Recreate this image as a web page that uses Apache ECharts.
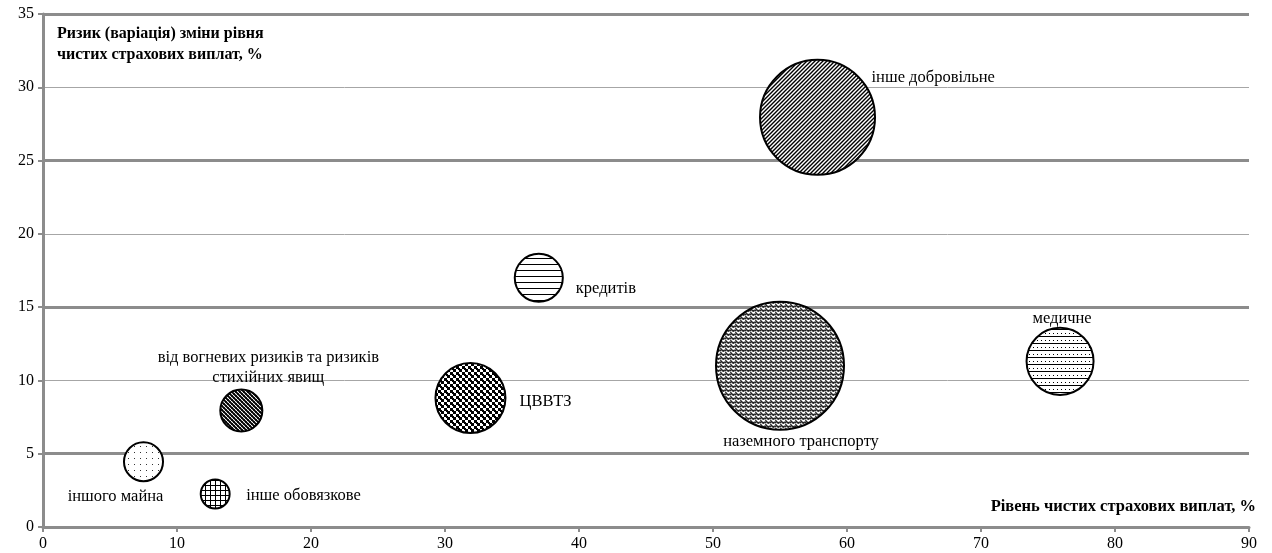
<!DOCTYPE html>
<html>
<head>
<meta charset="utf-8">
<script src="https://cdn.jsdelivr.net/npm/echarts@6/dist/echarts.min.js"></script>
<style>
html,body{margin:0;padding:0;background:#fff;}
#chart{width:1272px;height:553px;}
</style>
</head>
<body>
<div id="chart"></div>
<script>
// ---- data ----
const categories = ['інше добровільне','наземного транспорту','медичне','кредитів','ЦВВТЗ','від вогневих ризиків та ризиків стихійних явищ','інше обовязкове','іншого майна'];
const payoutLevel = [57.8, 55.0, 75.9, 37.0, 31.9, 14.8, 12.85, 7.5];   // x, %
const payoutRisk  = [27.95, 11.0, 11.3, 17.0, 8.8, 7.95, 2.25, 4.45];   // y, %
const bubbleSize  = [80.7, 100, 27.4, 14.1, 29.9, 10.8, 5.1, 9.3];
const xTicks = [0,10,20,30,40,50,60,70,80,90];
const yTicks = [0,5,10,15,20,25,30,35];
const thickGridValues = [5,15,25,35];

// ---- patterns ----
function tile(w,h,draw){
  const c=document.createElement('canvas'); c.width=w; c.height=h;
  const g=c.getContext('2d'); g.fillStyle='#fff'; g.fillRect(0,0,w,h);
  g.fillStyle='#000'; g.strokeStyle='#000'; draw(g,w,h); return c;
}
const patterns = {
  diag: tile(4,4,(g,w,h)=>{g.lineWidth=1.4;g.beginPath();g.moveTo(-1,h+1);g.lineTo(w+1,-1);g.moveTo(-1,1);g.lineTo(1,-1);g.moveTo(w-1,h+1);g.lineTo(w+1,h-1);g.stroke();}),
  wave: tile(5,4,(g,w,h)=>{g.lineWidth=1.1;g.strokeStyle='#222';g.beginPath();g.moveTo(0,3.5);g.lineTo(1.25,1);g.lineTo(2.5,3.5);g.moveTo(2.5,1.5);g.lineTo(3.75,3.5);g.lineTo(5,1.5);g.stroke();g.fillStyle='#444';g.fillRect(0,0,1,1);}),
  hdots: tile(4,7,(g,w,h)=>{g.fillRect(0,0,w,1);g.fillRect(1,4,1,1);}),
  hlines: tile(2,6,(g,w,h)=>{g.fillRect(0,0,w,1);}),
  checker: tile(6,6,(g,w,h)=>{g.fillRect(0,0,3,3);g.fillRect(3,3,3,3);g.fillRect(2,2,2,2);}),
  weave: tile(4,4,(g,w,h)=>{g.lineWidth=1.8;g.beginPath();g.moveTo(-1,-1);g.lineTo(w+1,h+1);g.moveTo(w-1,-1);g.lineTo(w+1,1);g.moveTo(-1,h-1);g.lineTo(1,h+1);g.stroke();g.lineWidth=0.7;g.beginPath();g.moveTo(0,h);g.lineTo(w,0);g.stroke();}),
  grid: tile(5,5,(g,w,h)=>{g.fillRect(0,0,w,1);g.fillRect(0,0,1,h);}),
  dots: tile(6,6,(g,w,h)=>{g.fillStyle='#333';g.fillRect(2,2,1,1);})
};
const patternOf = ['diag','wave','hdots','hlines','checker','weave','grid','dots'];
const labelLayout = [
  {align:'left',  dx:54, dy:-40},
  {align:'center',dx:21, dy:76},
  {align:'center',dx:2,  dy:-43},
  {align:'left',  dx:37, dy:11},
  {align:'left',  dx:49, dy:4},
  {align:'center',dx:27, dy:-43, text:'від вогневих ризиків та ризиків\nстихійних явищ'},
  {align:'left',  dx:31, dy:2},
  {align:'center',dx:-28,dy:35}
];
const K = 12.8;
const serif = '"Liberation Serif","DejaVu Serif",serif';

const data = categories.map((name,i)=>({name:name, value:[payoutLevel[i], payoutRisk[i], bubbleSize[i]]}));

const chart = echarts.init(document.getElementById('chart'), null, {renderer:'canvas'});
chart.setOption({
  animation:false,
  backgroundColor:'#fff',
  grid:{left:43, right:23, top:14, bottom:26, containLabel:false},
  xAxis:{
    type:'value', min:xTicks[0], max:xTicks[xTicks.length-1], interval:10,
    axisLine:{show:true, lineStyle:{color:'#8c8c8c', width:3}},
    axisTick:{show:true, length:5, lineStyle:{color:'#8c8c8c', width:2}},
    axisLabel:{color:'#000', fontFamily:serif, fontSize:16, margin:9},
    splitLine:{show:false}
  },
  yAxis:{
    type:'value', min:yTicks[0], max:yTicks[yTicks.length-1], interval:5,
    axisLine:{show:true, lineStyle:{color:'#8c8c8c', width:3}},
    axisTick:{show:true, length:5, lineStyle:{color:'#8c8c8c', width:2}},
    axisLabel:{color:'#000', fontFamily:serif, fontSize:16, margin:9},
    splitLine:{show:true, lineStyle:{color:'#a6a6a6', width:1}}
  },
  graphic:[
    {type:'text', left:57, top:23, z:10, style:{text:'Ризик (варіація) зміни рівня\nчистих страхових виплат, %', font:'bold 16px '+serif, fill:'#000', lineHeight:21}},
    {type:'text', right:16, top:498, z:10, style:{text:'Рівень чистих страхових виплат, %', font:'bold 16.5px '+serif, fill:'#000'}}
  ],
  series:[
    {
      type:'scatter', data:[], z:1, silent:true,
      markLine:{
        silent:true, symbol:'none', animation:false,
        label:{show:false},
        lineStyle:{color:'#8c8c8c', width:3, type:'solid'},
        data: thickGridValues.map(v=>({yAxis:v}))
      }
    },
    {
      type:'custom', z:5,
      data: data,
      encode:{x:0, y:1},
      renderItem: function(params, api){
        const i = params.dataIndex;
        const p = api.coord([api.value(0), api.value(1)]);
        const r = K*Math.sqrt(api.value(2))/2;
        const L = labelLayout[i];
        return {
          type:'group',
          children:[
            {type:'circle', shape:{cx:p[0], cy:p[1], r:r},
             style:{fill:{image:patterns[patternOf[i]], repeat:'repeat'}, stroke:'#000', lineWidth:2}},
            {type:'text', x:p[0]+L.dx, y:p[1]+L.dy,
             style:{text:L.text || categories[i], font:'16.5px '+serif, fill:'#000',
                    align:L.align, verticalAlign:'middle', lineHeight:20}}
          ]
        };
      }
    }
  ]
});
</script>
</body>
</html>
